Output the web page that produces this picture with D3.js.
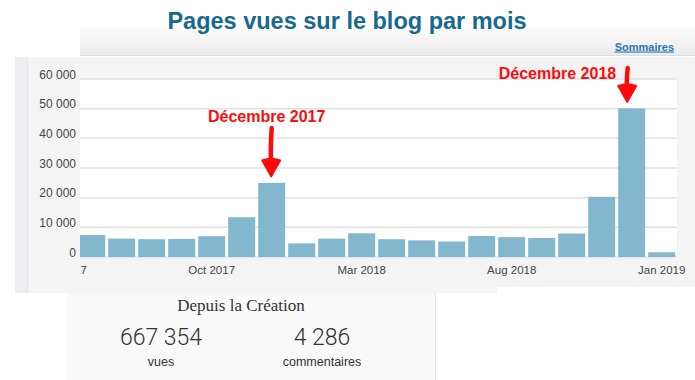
<!DOCTYPE html>
<html><head><meta charset="utf-8">
<script src="https://cdn.jsdelivr.net/npm/d3@7"></script>
<style>body{margin:0;background:#fff;} svg{display:block;}</style>
</head><body><svg id="c" width="695" height="380"></svg>
<script>
// ---- data ----
const months = ["May 2017","Jun 2017","Jul 2017","Aug 2017","Sep 2017","Oct 2017","Nov 2017","Dec 2017",
  "Jan 2018","Feb 2018","Mar 2018","Apr 2018","May 2018","Jun 2018","Jul 2018","Aug 2018","Sep 2018",
  "Oct 2018","Nov 2018","Dec 2018","Jan 2019"];
const views = [null, 7400, 6200, 6000, 6100, 7000, 13400, 25000,
  4600, 6200, 8000, 6000, 5600, 5200, 7100, 6700, 6400,
  7900, 20300, 50100, 1600];
const yTicks = [0, 10000, 20000, 30000, 40000, 50000, 60000];
const xTickLabels = ["May 2017","Oct 2017","Mar 2018","Aug 2018","Jan 2019"];
const annotationMonths = ["Dec 2017","Dec 2018"];
const annotationLabels = ["Décembre 2017","Décembre 2018"];
const totalValues = ["667 354","4 286"];
const totalLabels = ["vues","commentaires"];
const titleText = "Pages vues sur le blog par mois";
const linkText = "Sommaires";
const totalsTitle = "Depuis la Création";

// ---- layout ----
const svg = d3.select("#c");
const plot = {left: 80, right: 677, top: 79, bottom: 257};
const fr = d3.formatLocale({decimal: ",", thousands: " ", grouping: [3], currency: ["", " €"]});
const fmt = fr.format(",");

const defs = svg.append("defs");
const grad = defs.append("linearGradient").attr("id","hdr").attr("x1",0).attr("x2",0).attr("y1",0).attr("y2",1);
grad.append("stop").attr("offset","0%").attr("stop-color","#fbfbfb");
grad.append("stop").attr("offset","100%").attr("stop-color","#ebebeb");
defs.append("clipPath").attr("id","clip").append("rect")
  .attr("x", plot.left).attr("y", 0).attr("width", 695 - plot.left).attr("height", 300);

// header band
svg.append("rect").attr("x",80).attr("y",28).attr("width",615).attr("height",27).attr("fill","url(#hdr)");
svg.append("line").attr("x1",80).attr("x2",695).attr("y1",55.5).attr("y2",55.5).attr("stroke","#dedede");

// chart panel
svg.append("path").attr("d","M15,57 H695 V287 H497 V293 H15 Z").attr("fill","#f4f4f4");
svg.append("rect").attr("x",15).attr("y",57).attr("width",12).attr("height",236).attr("fill","#eceef1");
svg.append("line").attr("x1",27.5).attr("x2",27.5).attr("y1",57).attr("y2",293).attr("stroke","#e2e3e6");
svg.append("rect").attr("x",plot.left).attr("y",plot.top).attr("width",plot.right-plot.left)
  .attr("height",plot.bottom-plot.top).attr("fill","#fff");

// title
svg.append("text").attr("x",347).attr("y",28.5).attr("text-anchor","middle")
  .attr("font-family","Liberation Sans, Arial, sans-serif").attr("font-weight","bold")
  .attr("font-size","23.5px").attr("fill","#17698f").text(titleText);

// link
const link = svg.append("text").attr("x",674).attr("y",50.5).attr("text-anchor","end")
  .attr("font-family","Liberation Sans, Arial, sans-serif").attr("font-weight","bold")
  .attr("font-size","11px").attr("fill","#2a78b4").attr("text-decoration","underline").text(linkText);

// scales
const x = d3.scaleBand().domain(months).range([46.7, 676.7]).paddingInner(0.1).paddingOuter(0.05);
const y = d3.scaleLinear().domain([0, 60000]).range([plot.bottom, plot.top]);

// grid
svg.append("g").selectAll("line").data(yTicks).join("line")
  .attr("x1", plot.left).attr("x2", plot.right)
  .attr("y1", d => y(d)).attr("y2", d => y(d))
  .attr("stroke", "#e2e2e2").attr("stroke-width", 1.5);

// y labels
svg.append("g").selectAll("text").data(yTicks).join("text")
  .attr("x", 76).attr("y", d => y(d) - 4.5).attr("dy","0.35em").attr("text-anchor","end")
  .attr("font-family","Liberation Sans, Arial, sans-serif").attr("font-size","12px").attr("fill","#444")
  .text(d => fmt(d));

// bars
const data = months.map((m,i) => ({m, v: views[i]})).filter(d => d.v != null);
svg.append("g").attr("clip-path","url(#clip)").selectAll("rect").data(data).join("rect")
  .attr("x", d => x(d.m)).attr("width", x.bandwidth())
  .attr("y", d => y(d.v)).attr("height", d => y(0) - y(d.v))
  .attr("fill", "#82b7ce");

// x axis
const xAxis = d3.axisBottom(x).tickValues(xTickLabels).tickSize(0).tickPadding(0);
const gx = svg.append("g").attr("clip-path","url(#clip)").append("g")
  .attr("transform", `translate(0,${plot.bottom + 17})`).call(xAxis);
gx.select(".domain").remove();
gx.selectAll("text").attr("font-family","Liberation Sans, Arial, sans-serif")
  .attr("font-size","11.5px").attr("fill","#444").attr("dy","0");

// annotations
const annLayout = [
  {dx: -5, anchor: "middle", baseline: 121.7, shaftTop: 128, adx: -0.5},
  {dx: -15.5, anchor: "end", baseline: 79, shaftTop: 68, adx: -4.5}
];
annotationMonths.forEach((m, i) => {
  const L = annLayout[i];
  const cx = x(m) + x.bandwidth() / 2;
  const v = views[months.indexOf(m)];
  const tip = y(v) - 6.5;
  const ax = cx + L.adx;
  svg.append("text").attr("x", cx + L.dx).attr("y", L.baseline).attr("text-anchor", L.anchor)
    .attr("font-family","Liberation Sans, Arial, sans-serif").attr("font-weight","bold")
    .attr("font-size","16px").attr("fill","#ff0a0a").text(annotationLabels[i]);
  svg.append("path")
    .attr("d", `M${ax+0.5},${L.shaftTop} Q${ax-1},${(L.shaftTop+tip)/2} ${ax},${tip-14}`)
    .attr("stroke","#ff0a0a").attr("stroke-width",4.5).attr("stroke-linecap","round").attr("fill","none");
  svg.append("path")
    .attr("d", `M${ax-9},${tip-16} Q${ax},${tip-19} ${ax+9},${tip-16} L${ax},${tip} Z`)
    .attr("fill","#ff0a0a").attr("stroke","#ff0a0a").attr("stroke-width",2).attr("stroke-linejoin","round");
});

// totals panel
svg.append("rect").attr("x",67).attr("y",293).attr("width",368).attr("height",87).attr("fill","#f9f9f9");
svg.append("line").attr("x1",435.5).attr("x2",435.5).attr("y1",293).attr("y2",380).attr("stroke","#e6e6e6");
svg.append("text").attr("x",241).attr("y",311).attr("text-anchor","middle")
  .attr("font-family","Liberation Serif, Georgia, serif").attr("font-size","17px").attr("fill","#333")
  .text(totalsTitle);
const colX = [161, 322];
totalValues.forEach((t, i) => {
  svg.append("text").attr("x", colX[i]).attr("y", 345).attr("text-anchor","middle")
    .attr("font-family","Roboto, sans-serif").attr("font-weight","300").attr("font-size","23px")
    .attr("fill","#333").text(t);
  svg.append("text").attr("x", colX[i]).attr("y", 366).attr("text-anchor","middle")
    .attr("font-family","Liberation Sans, Arial, sans-serif").attr("font-size","12.5px")
    .attr("fill","#333").text(totalLabels[i]);
});
</script></body></html>
